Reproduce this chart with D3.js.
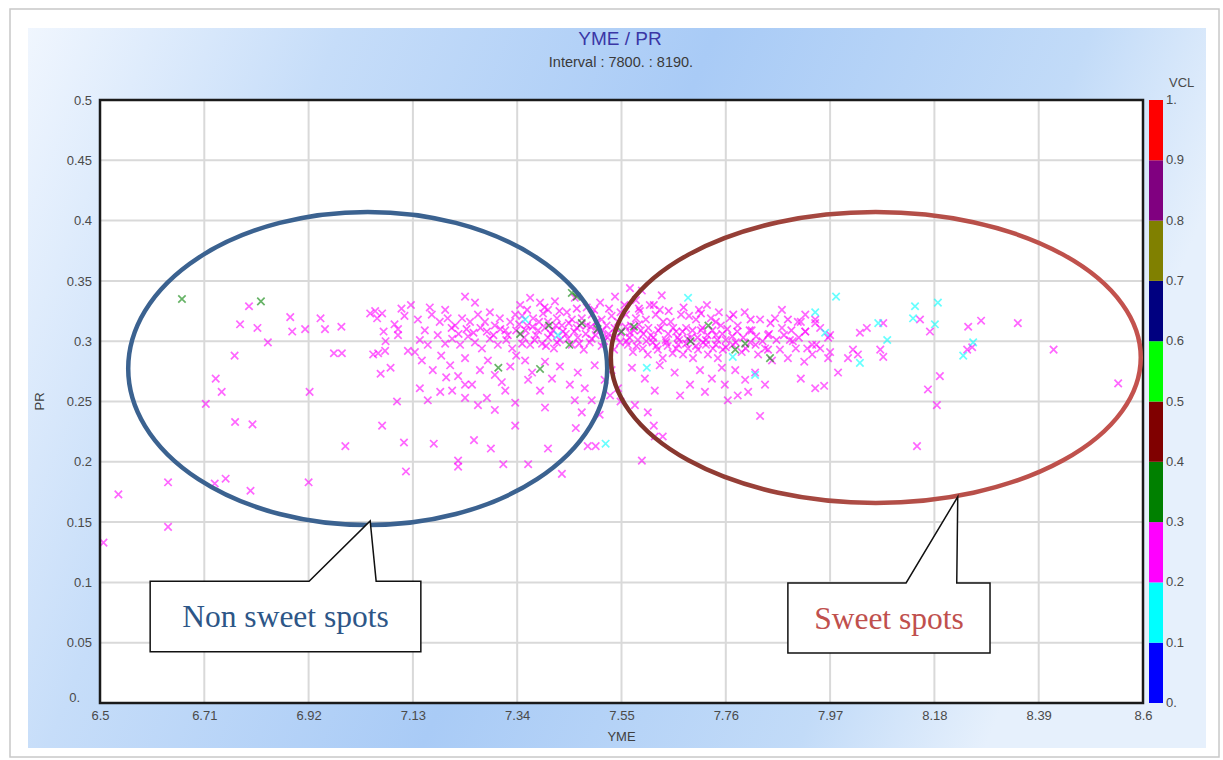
<!DOCTYPE html>
<html>
<head>
<meta charset="utf-8">
<script src="https://cdn.jsdelivr.net/npm/d3@7"></script>
<style>
  body { margin: 0; background: #fff; }
  .tick-label { font-family: Arial, "Liberation Sans", sans-serif; font-size: 13px; fill: #4a4a4a; }
  .axis-title { font-family: Arial, "Liberation Sans", sans-serif; font-size: 13px; fill: #404040; }
</style>
</head>
<body>
<svg id="chart" width="1223" height="760"></svg>
<script>
// axis ticks
const xTicks = [6.5, 6.71, 6.92, 7.13, 7.34, 7.55, 7.76, 7.97, 8.18, 8.39, 8.6];
const yTicks = [0, 0.05, 0.1, 0.15, 0.2, 0.25, 0.3, 0.35, 0.4, 0.45, 0.5];
const yTickLabels = ["0.", "0.05", "0.1", "0.15", "0.2", "0.25", "0.3", "0.35", "0.4", "0.45", "0.5"];

// VCL colour bar
const vclBreaks = [0, 0.1, 0.2, 0.3, 0.4, 0.5, 0.6, 0.7, 0.8, 0.9, 1];
const vclLabels = ["0.", "0.1", "0.2", "0.3", "0.4", "0.5", "0.6", "0.7", "0.8", "0.9", "1."];
const vclColors = ["#0000ff", "#00ffff", "#ff00ff", "#008000", "#800000",
                   "#00ff00", "#000080", "#808000", "#800080", "#ff0000"];

// scatter points [YME, PR], grouped by VCL class
const vclPink = 0.25, vclCyan = 0.15, vclGreen = 0.35;
const pinkPts = [
  [6.507,0.133],[6.537,0.173],[6.637,0.183],[6.637,0.146],[6.713,0.248],[6.733,0.269],[6.745,0.258],
  [6.731,0.182],[6.753,0.186],[6.771,0.288],[6.772,0.233],[6.782,0.314],[6.800,0.329],[6.803,0.176],
  [6.807,0.231],[6.817,0.311],[6.838,0.299],[6.883,0.320],[6.887,0.308],[6.913,0.310],[6.922,0.258],
  [6.920,0.183],[6.944,0.319],[6.953,0.310],[6.971,0.290],[6.987,0.290],[6.986,0.312],[6.994,0.213],
  [7.044,0.323],[7.054,0.325],[7.068,0.323],[7.058,0.319],[7.107,0.327],[7.113,0.321],[7.071,0.308],
  [7.075,0.300],[7.093,0.314],[7.100,0.310],[7.100,0.305],[7.050,0.289],[7.060,0.290],[7.074,0.292],
  [7.065,0.273],[7.085,0.278],[7.098,0.250],[7.068,0.230],[7.112,0.216],[7.116,0.192],[7.120,0.292],
  [7.126,0.330],
  [7.235,0.337],[7.255,0.332],[7.164,0.328],[7.195,0.326],[7.140,0.318],[7.154,0.309],[7.168,0.322],
  [7.184,0.316],[7.200,0.319],[7.215,0.313],[7.229,0.319],[7.245,0.316],[7.261,0.322],[7.275,0.316],
  [7.285,0.324],[7.295,0.313],[7.305,0.319],[7.316,0.309],[7.326,0.316],[7.336,0.322],
  [7.144,0.301],[7.160,0.297],[7.180,0.305],[7.195,0.298],[7.209,0.302],[7.225,0.297],[7.241,0.304],
  [7.255,0.299],[7.269,0.294],[7.285,0.302],[7.301,0.297],[7.318,0.301],[7.330,0.294],
  [7.134,0.291],[7.148,0.284],[7.170,0.276],[7.187,0.288],[7.205,0.280],[7.221,0.271],[7.235,0.286],
  [7.249,0.264],[7.265,0.276],[7.281,0.284],[7.295,0.272],[7.309,0.266],[7.326,0.279],[7.338,0.288],
  [7.235,0.264],[7.197,0.270],
  [7.185,0.258],[7.209,0.259],[7.235,0.253],[7.261,0.247],[7.279,0.253],[7.295,0.243],[7.336,0.249],
  [7.316,0.259],[7.160,0.251],[7.144,0.261],
  [7.172,0.215],[7.221,0.201],[7.221,0.196],[7.253,0.218],[7.287,0.211],[7.312,0.198],[7.336,0.230],
  [7.346,0.330],[7.366,0.336],[7.386,0.332],[7.402,0.326],[7.416,0.333],[7.456,0.336],[7.480,0.328],
  [7.507,0.332],[7.537,0.337],
  [7.350,0.321],[7.360,0.313],[7.372,0.319],[7.382,0.309],[7.392,0.323],[7.402,0.316],[7.412,0.309],
  [7.420,0.319],[7.430,0.313],[7.440,0.324],[7.450,0.318],[7.460,0.311],[7.470,0.319],[7.480,0.313],
  [7.490,0.322],[7.500,0.309],[7.510,0.318],[7.520,0.313],[7.530,0.321],[7.543,0.316],[7.548,0.324],
  [7.354,0.303],[7.366,0.297],[7.378,0.305],[7.390,0.298],[7.402,0.303],[7.414,0.294],[7.426,0.301],
  [7.438,0.306],[7.450,0.297],[7.462,0.303],[7.474,0.293],[7.486,0.299],[7.498,0.305],[7.510,0.296],
  [7.522,0.303],[7.535,0.293],[7.547,0.299],
  [7.356,0.284],[7.370,0.274],[7.396,0.283],[7.410,0.269],[7.426,0.279],[7.446,0.264],[7.462,0.274],
  [7.476,0.261],[7.496,0.280],[7.516,0.268],[7.530,0.276],[7.543,0.261],[7.386,0.259],[7.362,0.268],
  [7.396,0.245],[7.456,0.251],[7.470,0.241],[7.490,0.251],[7.506,0.239],[7.402,0.211],[7.430,0.190],
  [7.482,0.213],[7.498,0.213],[7.362,0.198],[7.458,0.228],[7.527,0.255],[7.548,0.250],
  [7.567,0.344],[7.591,0.342],[7.631,0.338],[7.579,0.334],[7.607,0.330],[7.722,0.330],
  [7.559,0.322],[7.569,0.313],[7.579,0.319],[7.589,0.309],[7.599,0.318],[7.609,0.305],[7.619,0.322],
  [7.629,0.311],[7.639,0.301],[7.649,0.316],[7.660,0.308],[7.670,0.322],[7.680,0.311],[7.690,0.303],
  [7.700,0.318],[7.710,0.309],[7.720,0.297],[7.730,0.319],[7.740,0.305],[7.750,0.313],[7.760,0.301],
  [7.563,0.297],[7.573,0.291],[7.583,0.301],[7.593,0.294],[7.603,0.289],[7.613,0.299],[7.623,0.293],
  [7.633,0.286],[7.643,0.296],[7.653,0.290],[7.664,0.297],[7.674,0.289],[7.684,0.294],[7.694,0.286],
  [7.704,0.293],[7.714,0.299],[7.724,0.289],[7.734,0.294],[7.744,0.286],[7.754,0.293],
  [7.567,0.307],[7.587,0.325],[7.627,0.326],[7.666,0.301],[7.706,0.326],[7.746,0.324],[7.686,0.321],
  [7.571,0.278],[7.597,0.269],[7.627,0.280],[7.657,0.274],[7.688,0.264],[7.708,0.276],[7.732,0.269],
  [7.752,0.278],[7.617,0.259],[7.668,0.255],[7.718,0.258],[7.758,0.264],
  [7.577,0.247],[7.603,0.241],[7.615,0.230],[7.633,0.221],[7.591,0.201],[7.617,0.221],
  [7.768,0.319],[7.784,0.313],[7.798,0.324],[7.812,0.309],[7.829,0.318],[7.845,0.305],[7.859,0.319],
  [7.873,0.311],[7.889,0.301],[7.905,0.316],[7.920,0.308],[7.934,0.297],[7.950,0.311],[7.966,0.303],
  [7.774,0.297],[7.792,0.291],[7.809,0.299],[7.825,0.289],[7.839,0.294],[7.853,0.284],[7.869,0.293],
  [7.885,0.286],[7.901,0.294],[7.918,0.283],[7.934,0.289],[7.950,0.294],[7.966,0.286],
  [7.779,0.276],[7.799,0.268],[7.819,0.274],[7.839,0.264],[7.805,0.258],[7.764,0.251],[7.784,0.255],
  [7.911,0.269],[7.940,0.261],[7.829,0.238],[7.873,0.326],[7.920,0.322],[7.940,0.318],
  [7.911,0.316],[7.940,0.315],[7.920,0.308],[7.895,0.300],[7.942,0.297],[7.924,0.294],[7.970,0.305],
  [7.970,0.291],[7.986,0.274],[7.958,0.263],[8.006,0.286],[8.016,0.293],[8.030,0.307],[8.044,0.311],
  [8.026,0.289],[8.077,0.315],[8.071,0.293],[8.077,0.287],[8.151,0.318],[8.171,0.308],[8.191,0.271],
  [8.167,0.260],[8.185,0.247],[8.145,0.213],[8.248,0.312],[8.274,0.317],[8.348,0.315],[8.246,0.293],
  [8.256,0.295],[8.420,0.293],[8.550,0.265]
];
// the densest core of the cloud, read separately
const pinkCore = [
  [7.208,0.311],[7.222,0.306],[7.238,0.310],[7.252,0.307],[7.266,0.311],[7.279,0.308],[7.292,0.305],
  [7.306,0.310],[7.321,0.305],[7.338,0.309],[7.344,0.314],[7.357,0.309],[7.371,0.312],[7.384,0.316],
  [7.396,0.311],[7.408,0.306],[7.418,0.313],[7.432,0.308],[7.444,0.315],[7.455,0.308],[7.466,0.313],
  [7.478,0.306],[7.488,0.312],[7.500,0.316],[7.512,0.309],[7.524,0.306],[7.536,0.311],[7.548,0.307],
  [7.558,0.312],[7.566,0.303],[7.575,0.309],[7.585,0.314],[7.594,0.306],[7.604,0.311],[7.614,0.303],
  [7.624,0.309],[7.634,0.316],[7.644,0.306],[7.654,0.311],[7.663,0.303],[7.673,0.308],[7.683,0.302],
  [7.693,0.309],[7.703,0.303],[7.713,0.311],[7.723,0.305],[7.733,0.309],[7.743,0.301],[7.753,0.306],
  [7.763,0.310],[7.773,0.304],[7.783,0.308],[7.795,0.303],[7.808,0.309],[7.821,0.304],[7.834,0.300],
  [7.847,0.306],[7.862,0.301],[7.877,0.305],[7.892,0.309],[7.907,0.303],
  [7.350,0.298],[7.375,0.301],[7.398,0.296],[7.420,0.299],[7.442,0.302],[7.465,0.298],[7.490,0.302],
  [7.515,0.300],[7.540,0.303],[7.560,0.300],[7.580,0.296],[7.600,0.300],[7.620,0.296],[7.640,0.299],
  [7.660,0.294],[7.680,0.298],[7.700,0.296],[7.720,0.301],[7.740,0.297],[7.760,0.295],[7.780,0.299],
  [7.800,0.294],[7.820,0.297],[7.845,0.293],
  [7.360,0.326],[7.395,0.328],[7.425,0.325],[7.460,0.327],[7.495,0.326],[7.525,0.327],[7.556,0.330],
  [7.585,0.327],[7.615,0.330],[7.645,0.325],[7.675,0.328],[7.710,0.323],[7.740,0.316],[7.775,0.322],
  [7.810,0.318],[7.850,0.315],[7.885,0.318]
];
const cyanPts = [
  [7.684,0.336],[7.601,0.278],[7.819,0.272],[7.422,0.305],[7.774,0.287],[7.356,0.318],[7.518,0.215],
  [7.982,0.337],[7.940,0.324],[7.960,0.307],[8.030,0.282],[8.067,0.315],[8.085,0.301],[8.141,0.329],
  [8.187,0.332],[8.137,0.319],[8.181,0.314],[8.258,0.299],[8.238,0.288]
];
const greenPts = [
  [6.665,0.335],[6.824,0.333],[7.450,0.340],[7.460,0.337],[7.346,0.306],[7.386,0.277],[7.302,0.278],
  [7.445,0.297],[7.404,0.313],[7.470,0.315],[7.550,0.308],[7.689,0.300],[7.725,0.313],[7.779,0.293],
  [7.849,0.286],[7.799,0.298],[7.502,0.310],[7.575,0.312]
];

// annotations in data units
const nonSweet = { cx: 7.039, cy: 0.2774, rx: 0.4822, ry: 0.1298,
  box: [6.601, 7.146, 0.0425, 0.101], base: [6.921, 7.056], tip: [7.044, 0.151],
  text: "Non sweet spots", color: "#2d5687" };
const sweet = { cx: 8.062, cy: 0.2865, rx: 0.5335, ry: 0.1206,
  box: [7.885, 8.292, 0.0415, 0.0995], base: [8.123, 8.225], tip: [8.227, 0.171],
  text: "Sweet spots", color: "#c0504d" };

const svg = d3.select("#chart");
const plot = { left: 100, right: 1143, top: 100, bottom: 703 };

const defs = svg.append("defs");
const bg = defs.append("linearGradient").attr("id", "bg")
  .attr("x1", 0).attr("y1", 0).attr("x2", 1).attr("y2", 0.25);
bg.append("stop").attr("offset", 0).attr("stop-color", "#f0f6fe");
bg.append("stop").attr("offset", 0.25).attr("stop-color", "#c6ddf9");
bg.append("stop").attr("offset", 0.55).attr("stop-color", "#a9cbf6");
bg.append("stop").attr("offset", 0.85).attr("stop-color", "#c2dbf8");
bg.append("stop").attr("offset", 1).attr("stop-color", "#e6f0fc");
const redGrad = defs.append("linearGradient").attr("id", "redEll")
  .attr("x1", 0).attr("x2", 1).attr("y1", 0).attr("y2", 0);
redGrad.append("stop").attr("offset", 0).attr("stop-color", "#7d3128");
redGrad.append("stop").attr("offset", 0.5).attr("stop-color", "#b14e47");
redGrad.append("stop").attr("offset", 1).attr("stop-color", "#c4524e");

// outer frame + gradient panel
svg.append("rect").attr("x", 10).attr("y", 9).attr("width", 1209).attr("height", 748)
  .attr("fill", "#fff").attr("stroke", "#c8c8c8").attr("stroke-width", 1.5);
svg.append("rect").attr("x", 28).attr("y", 28).attr("width", 1178).attr("height", 720)
  .attr("fill", "url(#bg)");

const x = d3.scaleLinear().domain([6.5, 8.6]).range([plot.left, plot.right]);
const y = d3.scaleLinear().domain([0, 0.5]).range([plot.bottom, plot.top]);
const cbY = d3.scaleLinear().domain([0, 1]).range([plot.bottom, plot.top]);
const vclColor = d3.scaleThreshold().domain(vclBreaks.slice(1, -1)).range(vclColors);

svg.append("rect").attr("x", plot.left).attr("y", plot.top)
  .attr("width", plot.right - plot.left).attr("height", plot.bottom - plot.top).attr("fill", "#fff");

// grid
svg.append("g").selectAll("line").data(xTicks.slice(1, -1)).join("line")
  .attr("x1", d => x(d)).attr("x2", d => x(d)).attr("y1", plot.top).attr("y2", plot.bottom)
  .attr("stroke", "#d9d9d9").attr("stroke-width", 2);
svg.append("g").selectAll("line").data(yTicks.slice(1, -1)).join("line")
  .attr("y1", d => y(d)).attr("y2", d => y(d)).attr("x1", plot.left).attr("x2", plot.right)
  .attr("stroke", "#d9d9d9").attr("stroke-width", 2);

// axes (labels only, like the original)
const xAxis = svg.append("g").attr("transform", `translate(0,${plot.bottom})`)
  .call(d3.axisBottom(x).tickValues(xTicks).tickSize(0).tickPadding(8).tickFormat(d => String(d)));
xAxis.select(".domain").remove();
xAxis.selectAll("text").attr("class", "tick-label");
const yAxis = svg.append("g").attr("transform", `translate(${plot.left},0)`)
  .call(d3.axisLeft(y).tickValues(yTicks).tickSize(0).tickPadding(8).tickFormat((d, i) => yTickLabels[i]));
yAxis.select(".domain").remove();
yAxis.selectAll("text").attr("class", "tick-label");
yAxis.selectAll(".tick").filter(d => d === 0).select("text").attr("dx", -12).attr("dy", "-0.1em");

svg.append("text").attr("class", "axis-title").attr("x", x(7.55)).attr("y", 741)
  .attr("text-anchor", "middle").text("YME");
svg.append("text").attr("class", "axis-title")
  .attr("transform", `translate(44,${y(0.25)}) rotate(-90)`)
  .attr("text-anchor", "middle").text("PR");

// titles
svg.append("text").attr("x", 620).attr("y", 45).attr("text-anchor", "middle")
  .style("font-family", "Arial, 'Liberation Sans', sans-serif").style("font-size", "19px")
  .style("fill", "#3a36a6").text("YME / PR");
svg.append("text").attr("x", 621).attr("y", 67).attr("text-anchor", "middle")
  .style("font-family", "Arial, 'Liberation Sans', sans-serif").style("font-size", "14.5px")
  .style("fill", "#3a3a3a").text("Interval : 7800. : 8190.");

// scatter
const marker = "M-3.7,-3.7L3.7,3.7M-3.7,3.7L3.7,-3.7";
function drawPts(pts, vcl, opacity) {
  svg.append("g").selectAll("path").data(pts).join("path")
    .attr("d", marker)
    .attr("transform", d => `translate(${x(d[0])},${y(d[1])})`)
    .attr("fill", "none")
    .attr("stroke", vclColor(vcl))
    .attr("stroke-width", 1.7)
    .attr("stroke-opacity", opacity);
}
drawPts(pinkPts, vclPink, 0.6);
drawPts(pinkCore, vclPink, 0.65);
drawPts(cyanPts, vclCyan, 0.6);
drawPts(greenPts, vclGreen, 0.6);

// plot border
svg.append("rect").attr("x", plot.left).attr("y", plot.top)
  .attr("width", plot.right - plot.left).attr("height", plot.bottom - plot.top)
  .attr("fill", "none").attr("stroke", "#1a1a1a").attr("stroke-width", 2.5);

// colour bar
const cb = svg.append("g");
cb.selectAll("rect").data(vclColors).join("rect")
  .attr("x", plot.right + 6).attr("width", 14)
  .attr("y", (d, i) => cbY(vclBreaks[i + 1])).attr("height", (d, i) => cbY(vclBreaks[i]) - cbY(vclBreaks[i + 1]))
  .attr("fill", d => d);
cb.selectAll("text").data(vclBreaks).join("text")
  .attr("class", "tick-label")
  .attr("x", plot.right + 23).attr("y", d => cbY(d) + 4)
  .text((d, i) => vclLabels[i]);
svg.append("text").attr("class", "tick-label").attr("x", plot.right + 26).attr("y", 87).text("VCL");

// ellipses + callouts
function callout(a, strokeColor) {
  svg.append("ellipse")
    .attr("cx", x(a.cx)).attr("cy", y(a.cy))
    .attr("rx", x(a.cx + a.rx) - x(a.cx)).attr("ry", y(a.cy) - y(a.cy + a.ry))
    .attr("fill", "none").attr("stroke", strokeColor).attr("stroke-width", 4.5);
  const [x0, x1, y0, y1] = a.box;
  const p = d3.path();
  p.moveTo(x(x0), y(y1));
  p.lineTo(x(a.base[0]), y(y1));
  p.lineTo(x(a.tip[0]), y(a.tip[1]));
  p.lineTo(x(a.base[1]), y(y1));
  p.lineTo(x(x1), y(y1));
  p.lineTo(x(x1), y(y0));
  p.lineTo(x(x0), y(y0));
  p.closePath();
  svg.append("path").attr("d", p.toString())
    .attr("fill", "#fff").attr("stroke", "#111").attr("stroke-width", 1.5);
  svg.append("text")
    .attr("x", (x(x0) + x(x1)) / 2).attr("y", (y(y0) + y(y1)) / 2 + 11)
    .attr("text-anchor", "middle")
    .style("font-family", "'Liberation Serif', 'Times New Roman', serif")
    .style("font-size", "31.5px").style("fill", a.color).text(a.text);
}
callout(nonSweet, "#3b6290");
callout(sweet, "url(#redEll)");
</script>
</body>
</html>
